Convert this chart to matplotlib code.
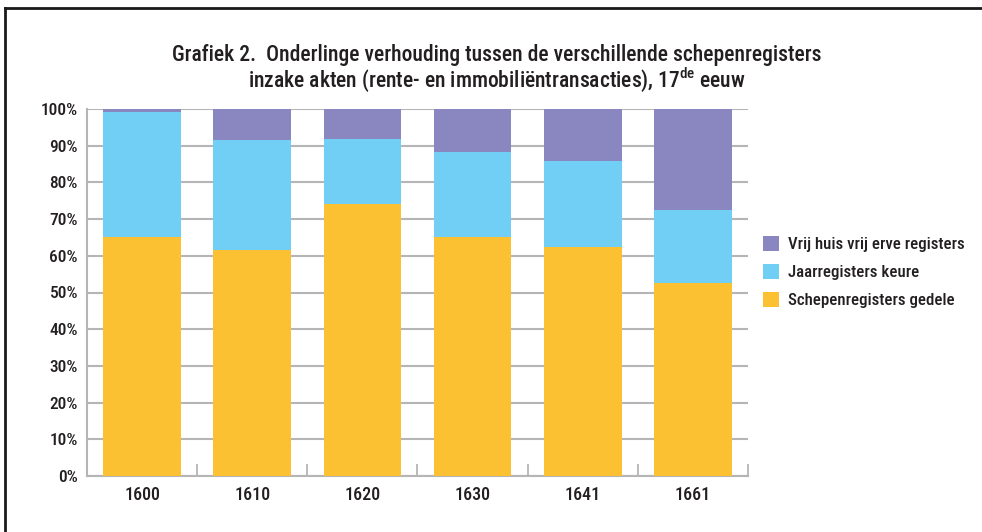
import matplotlib
matplotlib.use('Agg')
import numpy as np
from matplotlib import pyplot as plt
from matplotlib import font_manager as fm
from matplotlib.lines import Line2D

# data (percent of deeds per register type)
years = ['1600', '1610', '1620', '1630', '1641', '1661']
schepen = [65.2, 61.6, 74.2, 65.1, 62.5, 52.5]
jaar = [34.1, 30.0, 17.6, 23.2, 23.3, 20.0]
vrij = [0.7, 8.4, 8.2, 11.7, 14.2, 27.5]

# pick a narrow sans font if one is around
installed = set(f.name for f in fm.fontManager.ttflist)
font = 'Roboto'
for cand in ['Roboto Condensed', 'Liberation Sans Narrow', 'Archivo Narrow', 'PT Sans Narrow',
             'Open Sans Condensed', 'Fira Sans Condensed', 'IBM Plex Sans Condensed', 'Roboto']:
    if cand in installed:
        font = cand
        break

plt.rcParams['font.family'] = [font, 'DejaVu Sans']
plt.rcParams['font.weight'] = 'medium'
plt.rcParams['mathtext.fontset'] = 'custom'
plt.rcParams['mathtext.rm'] = font + ':medium'
plt.rcParams['text.color'] = '#231f20'

c_yellow = '#fbc132'
c_blue = '#71cef4'
c_purple = '#8a86bf'
grid_c = '#b5b5b5'
txt_c = '#231f20'

fig = plt.figure(figsize=(9.82, 5.32), dpi=100)
ax = fig.add_axes([87 / 982, 56 / 532, 661 / 982, 367 / 532])

x = np.arange(len(years))
w = 0.705
b1 = ax.bar(x, schepen, w, color=c_yellow, zorder=3, label='Schepenregisters gedele')
b2 = ax.bar(x, jaar, w, bottom=schepen, color=c_blue, zorder=3, label='Jaarregisters keure')
bottom2 = np.array(schepen) + np.array(jaar)
b3 = ax.bar(x, vrij, w, bottom=bottom2, color=c_purple, zorder=3, label='Vrij huis vrij erve registers')

ax.set_xlim(-0.5, 5.5)
ax.set_ylim(0, 100)
ax.set_yticks(range(0, 101, 10))
ax.set_yticklabels(['{}%'.format(v) for v in range(0, 101, 10)])
ax.yaxis.grid(True, color=grid_c, linewidth=1.5, zorder=0)
ax.set_axisbelow(True)

ax.set_xticks(x)
ax.set_xticklabels(years)
ax.set_xticks(np.arange(0.5, 6.0, 1.0), minor=True)
ax.tick_params(axis='x', which='major', length=0, pad=7.5, labelsize=13, labelcolor=txt_c)
ax.tick_params(axis='x', which='minor', direction='in', length=9, width=1.3, color=grid_c)
ax.tick_params(axis='y', length=0, pad=6.5, labelsize=12.5, labelcolor=txt_c)

for s in ['top', 'right']:
    ax.spines[s].set_visible(False)
for s in ['left', 'bottom']:
    ax.spines[s].set_color(grid_c)
    ax.spines[s].set_linewidth(1.5)

handles = [b3, b2, b1]
fig.legend(handles, [h.get_label() for h in handles], loc='center left',
           bbox_to_anchor=(763 / 982, 1 - 272 / 532), frameon=False, fontsize=12.2,
           handlelength=0.95, handleheight=0.95, handletextpad=0.55, labelspacing=0.7,
           borderpad=0, borderaxespad=0)

title = ('Grafiek 2.  Onderlinge verhouding tussen de verschillende schepenregisters\n'
         'inzake akten (rente- en immobiliëntransacties), 17$^{\\mathrm{de}}$ eeuw')
fig.text(0.5056, 1 - 69 / 532, title, ha='center', va='center', ma='center',
         fontsize=15.5, linespacing=1.0)

# frame lines at top and left
fig.add_artist(Line2D([0.005, 1.0], [0.985, 0.985], color='#1a1a1a', linewidth=2, transform=fig.transFigure))
fig.add_artist(Line2D([0.0055, 0.0055], [0.0, 0.985], color='#1a1a1a', linewidth=2, transform=fig.transFigure))

fig.savefig('out.png', dpi=100)
